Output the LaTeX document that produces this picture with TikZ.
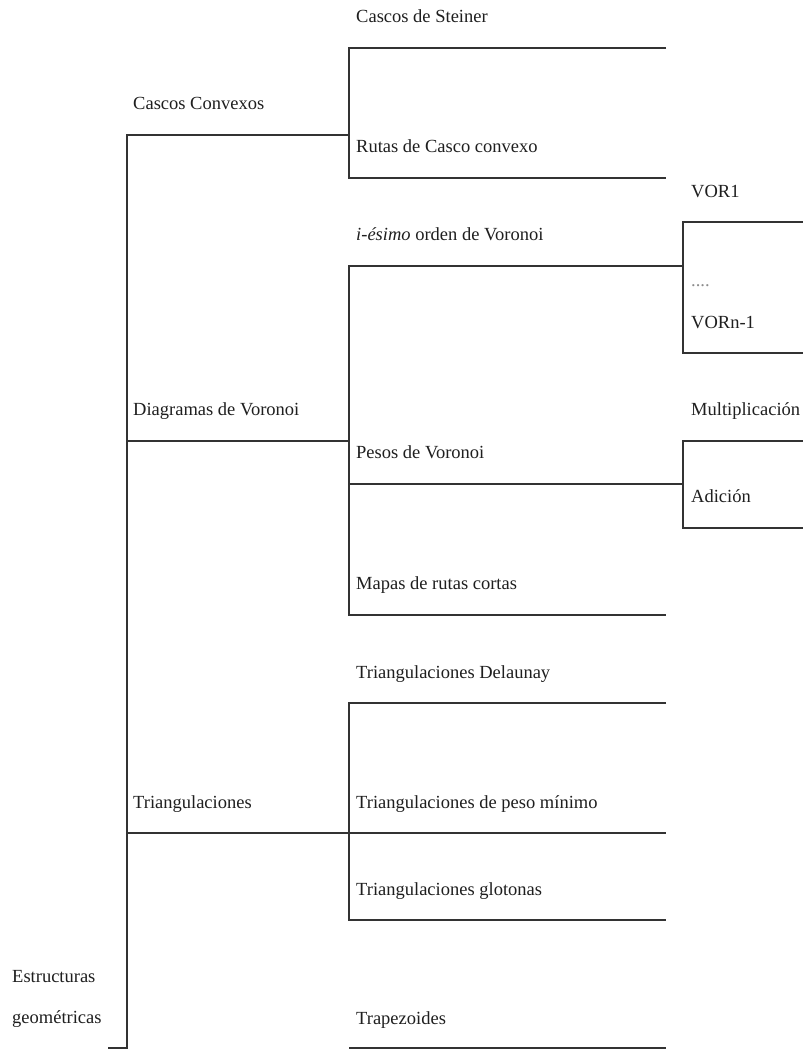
\documentclass[tikz,border=0pt]{standalone}
\usepackage{fontspec}
\setmainfont{Liberation Serif}
\begin{document}
\begin{tikzpicture}[x=1pt,y=-1pt,
  lbl/.style={anchor=base west,inner sep=0pt,font=\fontsize{18.5}{20}\selectfont,text=black!88},
  tree/.style={draw=black!80,line width=1.4pt,line join=miter}]
\useasboundingbox[fill=white] (0,0) rectangle (803,1050);
% junction coordinates
\coordinate (trTop) at (127,135);
\coordinate (trBot) at (127,1048);
\coordinate (stub) at (108,1048);
\coordinate (aJ) at (349,135);
\coordinate (bJ) at (349,441);
\coordinate (cJ) at (349,833);
\coordinate (aTop) at (349,48);   \coordinate (aTopE) at (666,48);
\coordinate (aBot) at (349,178);  \coordinate (aBotE) at (666,178);
\coordinate (bTop) at (349,266);  \coordinate (bTopE) at (683,266);
\coordinate (bMid) at (349,484);  \coordinate (bMidE) at (683,484);
\coordinate (bBot) at (349,615);  \coordinate (bBotE) at (666,615);
\coordinate (cTop) at (349,703);  \coordinate (cTopE) at (666,703);
\coordinate (cMidE) at (666,833);
\coordinate (cBot) at (349,920);  \coordinate (cBotE) at (666,920);
\coordinate (tzS) at (349,1048);  \coordinate (tzE) at (666,1048);
\coordinate (dTop) at (683,222);  \coordinate (dTopE) at (803,222);
\coordinate (dBot) at (683,353);  \coordinate (dBotE) at (803,353);
\coordinate (eTop) at (683,441);  \coordinate (eTopE) at (803,441);
\coordinate (eBot) at (683,528);  \coordinate (eBotE) at (803,528);
% labels
\node[lbl] (root1) at (12,982) {Estructuras};
\node[lbl] (root2) at (12,1023) {geométricas};
\node[lbl] (cc) at (133,109) {Cascos Convexos};
\node[lbl] (dv) at (133,415) {Diagramas de Voronoi};
\node[lbl] (tr) at (133,808) {Triangulaciones};
\node[lbl] (cs) at (356,22) {Cascos de Steiner};
\node[lbl] (rc) at (356,152) {Rutas de Casco convexo};
\node[lbl] (io) at (356,240) {\textit{i-ésimo} orden de Voronoi};
\node[lbl] (pv) at (356,458) {Pesos de Voronoi};
\node[lbl] (mr) at (356,589) {Mapas de rutas cortas};
\node[lbl] (td) at (356,678) {Triangulaciones Delaunay};
\node[lbl] (tp) at (356,808) {Triangulaciones de peso mínimo};
\node[lbl] (tg) at (356,895) {Triangulaciones glotonas};
\node[lbl] (tz) at (356,1024) {Trapezoides};
\node[lbl] (v1) at (691,197) {VOR1};
\node[lbl,text=black!45] (vd) at (691,286) {....};
\node[lbl] (vn) at (691,328) {VORn-1};
\node[lbl] (mu) at (691,415) {Multiplicación};
\node[lbl] (ad) at (691,502) {Adición};
% tree lines
\draw[tree] (stub) -- (trBot) -- (trTop) -- (aJ);
\draw[tree] (127,441) -- (bJ);
\draw[tree] (127,833) -- (cJ);
\draw[tree] (aTopE) -- (aTop) -- (aBot) -- (aBotE);
\draw[tree] (bTopE) -- (bTop) -- (bBot) -- (bBotE);
\draw[tree] (bMid) -- (bMidE);
\draw[tree] (cTopE) -- (cTop) -- (cBot) -- (cBotE);
\draw[tree] (cJ) -- (cMidE);
\draw[tree] (tzS) -- (tzE);
\draw[tree] (dTopE) -- (dTop) -- (dBot) -- (dBotE);
\draw[tree] (eTopE) -- (eTop) -- (eBot) -- (eBotE);
\end{tikzpicture}
\end{document}
